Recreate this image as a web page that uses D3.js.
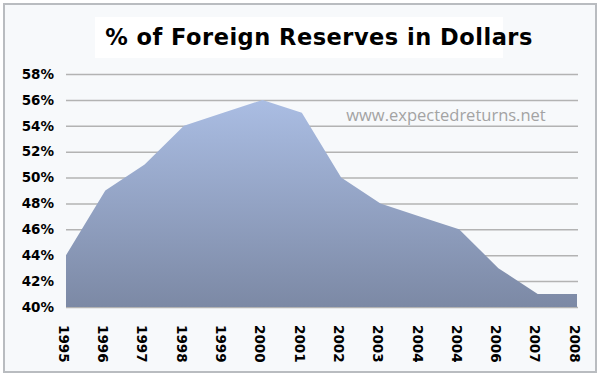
<!DOCTYPE html>
<html>
<head>
<meta charset="utf-8">
<script src="https://cdn.jsdelivr.net/npm/d3@7"></script>
<style>
  html, body { margin: 0; padding: 0; background: #fff; }
  svg { display: block; }
</style>
</head>
<body>
<div id="chart"></div>
<script>
// % of foreign reserves held in dollars, 1995-2008

const years  = ["1995", "1996", "1997", "1998", "1999", "2000", "2001",
                "2002", "2003", "2004", "2004", "2006", "2007", "2008"];
const shares = [44, 49, 51, 54, 55, 56, 55, 50, 48, 47, 46, 43, 41, 41];
const yTicks = [40, 42, 44, 46, 48, 50, 52, 54, 56, 58];

const W = 601, H = 378;
const margin = { top: 74, right: 24, bottom: 71, left: 66 };
const width  = W - margin.left - margin.right;
const height = H - margin.top - margin.bottom;

const svg = d3.select("#chart")
  .append("svg")
  .attr("width", W)
  .attr("height", H);

// gradient for area
const defs = svg.append("defs");
const grad = defs.append("linearGradient")
  .attr("id", "areaGrad")
  .attr("x1", 0).attr("y1", 0).attr("x2", 0).attr("y2", 1);
grad.append("stop").attr("offset", "0%").attr("stop-color", "#aabde3");
grad.append("stop").attr("offset", "100%").attr("stop-color", "#7c89a5");

// frame
svg.append("rect")
  .attr("x", 4).attr("y", 4)
  .attr("width", W - 9).attr("height", H - 10)
  .attr("fill", "#f7f9fb")
  .attr("stroke", "#b9bcc0")
  .attr("stroke-width", 2);

// title box
svg.append("rect")
  .attr("x", 95).attr("y", 17)
  .attr("width", 408).attr("height", 41)
  .attr("fill", "#ffffff");

svg.append("text")
  .attr("x", 319)
  .attr("y", 45)
  .attr("text-anchor", "middle")
  .attr("font-family", "DejaVu Sans, Verdana, sans-serif")
  .attr("font-weight", "bold")
  .attr("font-size", "22.5px")
  .attr("letter-spacing", "0.5px")
  .attr("fill", "#000")
  .text("% of Foreign Reserves in Dollars");

const g = svg.append("g")
  .attr("transform", `translate(${margin.left},${margin.top})`);

const x = d3.scaleLinear()
  .domain([0, years.length - 1])
  .range([0, width]);

const y = d3.scaleLinear()
  .domain([40, 58])
  .range([height, 0]);

// grid
g.append("g")
  .attr("class", "grid")
  .call(d3.axisLeft(y).tickValues(yTicks).tickSize(-(width + 1)).tickFormat(""))
  .call(s => s.select(".domain").remove())
  .call(s => s.selectAll("line").attr("stroke", "#b3b3b3").attr("stroke-width", 1.5));

// watermark
g.append("text")
  .attr("x", 380)
  .attr("y", 47)
  .attr("text-anchor", "middle")
  .attr("font-family", "Open Sans, sans-serif")
  .attr("font-size", "16.5px")
  .attr("fill", "#a3a3a3")
  .text("www.expectedreturns.net");

// area
const area = d3.area()
  .x((d, i) => x(i))
  .y0(y(40))
  .y1(d => y(d));

g.append("path")
  .datum(shares)
  .attr("d", area)
  .attr("fill", "url(#areaGrad)");

// y axis
g.append("g")
  .call(d3.axisLeft(y).tickValues(yTicks).tickSize(0).tickPadding(12).tickFormat(d => d + "%"))
  .call(s => s.select(".domain").remove())
  .call(s => s.selectAll("text")
    .attr("font-family", "DejaVu Sans, Verdana, sans-serif")
    .attr("font-weight", "bold")
    .attr("font-size", "13.5px")
    .attr("fill", "#000"));

// x axis (rotated labels)
const xAxis = g.append("g")
  .attr("transform", `translate(0,${height})`)
  .call(d3.axisBottom(x).tickValues(d3.range(years.length)).tickSize(0).tickFormat(i => years[i]))
  .call(s => s.select(".domain").remove());

xAxis.selectAll("text")
  .attr("font-family", "DejaVu Sans, Verdana, sans-serif")
  .attr("font-weight", "bold")
  .attr("font-size", "13.5px")
  .attr("fill", "#000")
  .attr("text-anchor", "start")
  .attr("x", 0)
  .attr("y", 0)
  .attr("dy", "0.35em")
  .attr("transform", "translate(-3,18) rotate(90)");
</script>
</body>
</html>
